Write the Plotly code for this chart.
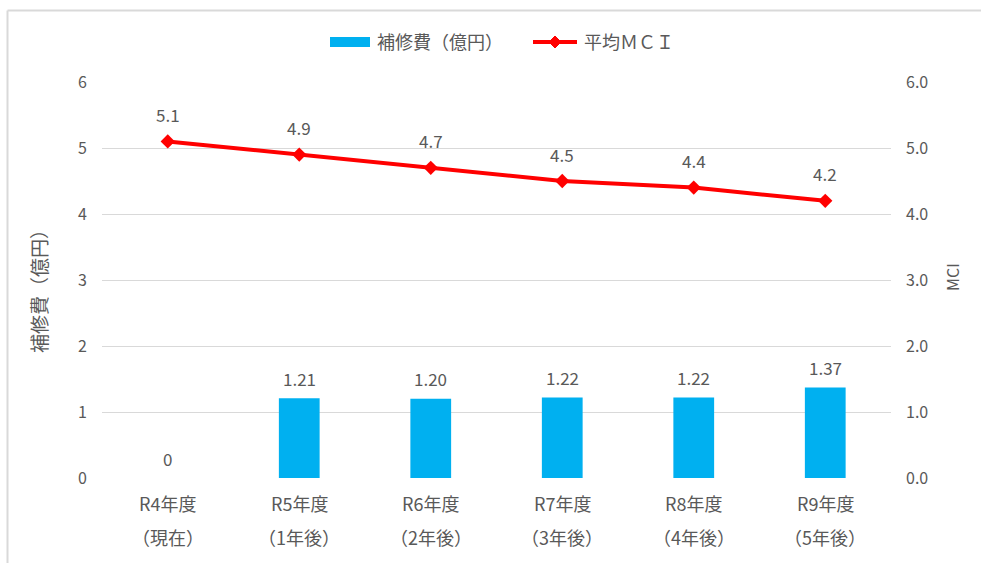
import plotly.graph_objects as go

# Data
years = ["R4年度", "R5年度", "R6年度", "R7年度", "R8年度", "R9年度"]
offsets = ["（現在）", "（1年後）", "（2年後）", "（3年後）", "（4年後）", "（5年後）"]
repair_cost = [0, 1.21, 1.20, 1.22, 1.22, 1.37]
avg_mci = [5.1, 4.9, 4.7, 4.5, 4.4, 4.2]
bar_name = "補修費（億円）"
line_name = "平均ＭＣＩ"

FONT = "Noto Sans CJK JP"
GREY = "#595959"
GRID = "#d9d9d9"
BLUE = "#00b0f0"
RED = "#ff0000"

W, H = 981, 563
ML, MR, MT, MB = 102, 90, 82, 85
PW, PH = W - ML - MR, H - MT - MB


def px_x(x):
    """Pixel column -> paper x."""
    return (x - ML) / PW


def px_y(y):
    """Pixel row -> paper y."""
    return (H - MB - y) / PH


fig = go.Figure()

fig.add_trace(go.Bar(
    x=years, y=repair_cost, name=bar_name,
    marker=dict(color=BLUE, line=dict(width=0)),
    width=0.31,
))

fig.add_trace(go.Scatter(
    x=years, y=avg_mci, name=line_name, yaxis="y2",
    mode="lines+markers",
    line=dict(color=RED, width=4),
    marker=dict(symbol="diamond", size=11, color=RED),
))

annotations = []
# Value labels above bars
for x, v in zip(years, repair_cost):
    annotations.append(dict(
        x=x, y=v, xref="x", yref="y", yshift=20, showarrow=False,
        text="0" if v == 0 else f"{v:.2f}",
        font=dict(family=FONT, size=17, color=GREY),
    ))
# Value labels above line markers
for x, v in zip(years, avg_mci):
    annotations.append(dict(
        x=x, y=v, xref="x", yref="y2", yshift=27, showarrow=False,
        text=f"{v:.1f}",
        font=dict(family=FONT, size=17, color=GREY),
    ))
# Two-row category labels
for x, a, b in zip(years, years, offsets):
    annotations.append(dict(
        x=x, y=px_y(503), xref="x", yref="paper", showarrow=False, yanchor="middle",
        text=a, font=dict(family=FONT, size=18, color=GREY),
    ))
    annotations.append(dict(
        x=x, y=px_y(537), xref="x", yref="paper", showarrow=False, yanchor="middle",
        text=b, font=dict(family=FONT, size=18, color=GREY),
    ))
# Axis titles
annotations.append(dict(
    x=px_x(38), y=px_y(287), xref="paper", yref="paper", showarrow=False, textangle=-90,
    xanchor="center", yanchor="middle",
    text=bar_name, font=dict(family=FONT, size=19, color=GREY),
))
annotations.append(dict(
    x=px_x(952), y=px_y(277), xref="paper", yref="paper", showarrow=False, textangle=-90,
    xanchor="center", yanchor="middle",
    text="MCI", font=dict(family=FONT, size=16, color=GREY),
))
# Legend texts
annotations.append(dict(
    x=px_x(375), y=px_y(41), xref="paper", yref="paper", showarrow=False,
    xanchor="left", yanchor="middle",
    text=bar_name, font=dict(family=FONT, size=18, color=GREY),
))
annotations.append(dict(
    x=px_x(582), y=px_y(41), xref="paper", yref="paper", showarrow=False,
    xanchor="left", yanchor="middle",
    text=line_name, font=dict(family=FONT, size=18, color=GREY),
))

# Diamond legend glyph
cx, cy, r = 555, 42, 6
diamond = (f"M {px_x(cx - r)} {px_y(cy)} L {px_x(cx)} {px_y(cy - r)} "
           f"L {px_x(cx + r)} {px_y(cy)} L {px_x(cx)} {px_y(cy + r)} Z")

shapes = [
    # outer frame (left and top edges)
    dict(type="line", xref="paper", yref="paper", x0=px_x(7.5), x1=px_x(7.5),
         y0=px_y(10.5), y1=px_y(570), line=dict(color=GRID, width=2)),
    dict(type="line", xref="paper", yref="paper", x0=px_x(7.5), x1=px_x(990),
         y0=px_y(10.5), y1=px_y(10.5), line=dict(color=GRID, width=2)),
    # legend swatches
    dict(type="rect", xref="paper", yref="paper", x0=px_x(330), x1=px_x(370),
         y0=px_y(47), y1=px_y(37), fillcolor=BLUE, line=dict(width=0)),
    dict(type="line", xref="paper", yref="paper", x0=px_x(533), x1=px_x(577),
         y0=px_y(42), y1=px_y(42), line=dict(color=RED, width=4)),
    dict(type="path", xref="paper", yref="paper", path=diamond,
         fillcolor=RED, line=dict(color=RED, width=1)),
]

fig.update_layout(
    width=W, height=H,
    margin=dict(l=ML, r=MR, t=MT, b=MB),
    paper_bgcolor="white", plot_bgcolor="white",
    font=dict(family=FONT, size=16, color=GREY),
    bargap=0.69,
    showlegend=False,
    xaxis=dict(showticklabels=False, showgrid=False, showline=False, ticks="",
               zeroline=False),
    yaxis=dict(range=[0, 6], dtick=1, showgrid=True, gridcolor=GRID, gridwidth=1,
               zeroline=False, showline=False, ticks="", ticklabelstandoff=14,
               tickfont=dict(family=FONT, size=16, color=GREY)),
    yaxis2=dict(range=[0, 6], dtick=1, overlaying="y", side="right", showgrid=False,
                zeroline=False, showline=False, ticks="", tickformat=".1f",
                ticklabelstandoff=14,
                tickfont=dict(family=FONT, size=16, color=GREY)),
    annotations=annotations,
    shapes=shapes,
)

fig.write_html("out.html")
